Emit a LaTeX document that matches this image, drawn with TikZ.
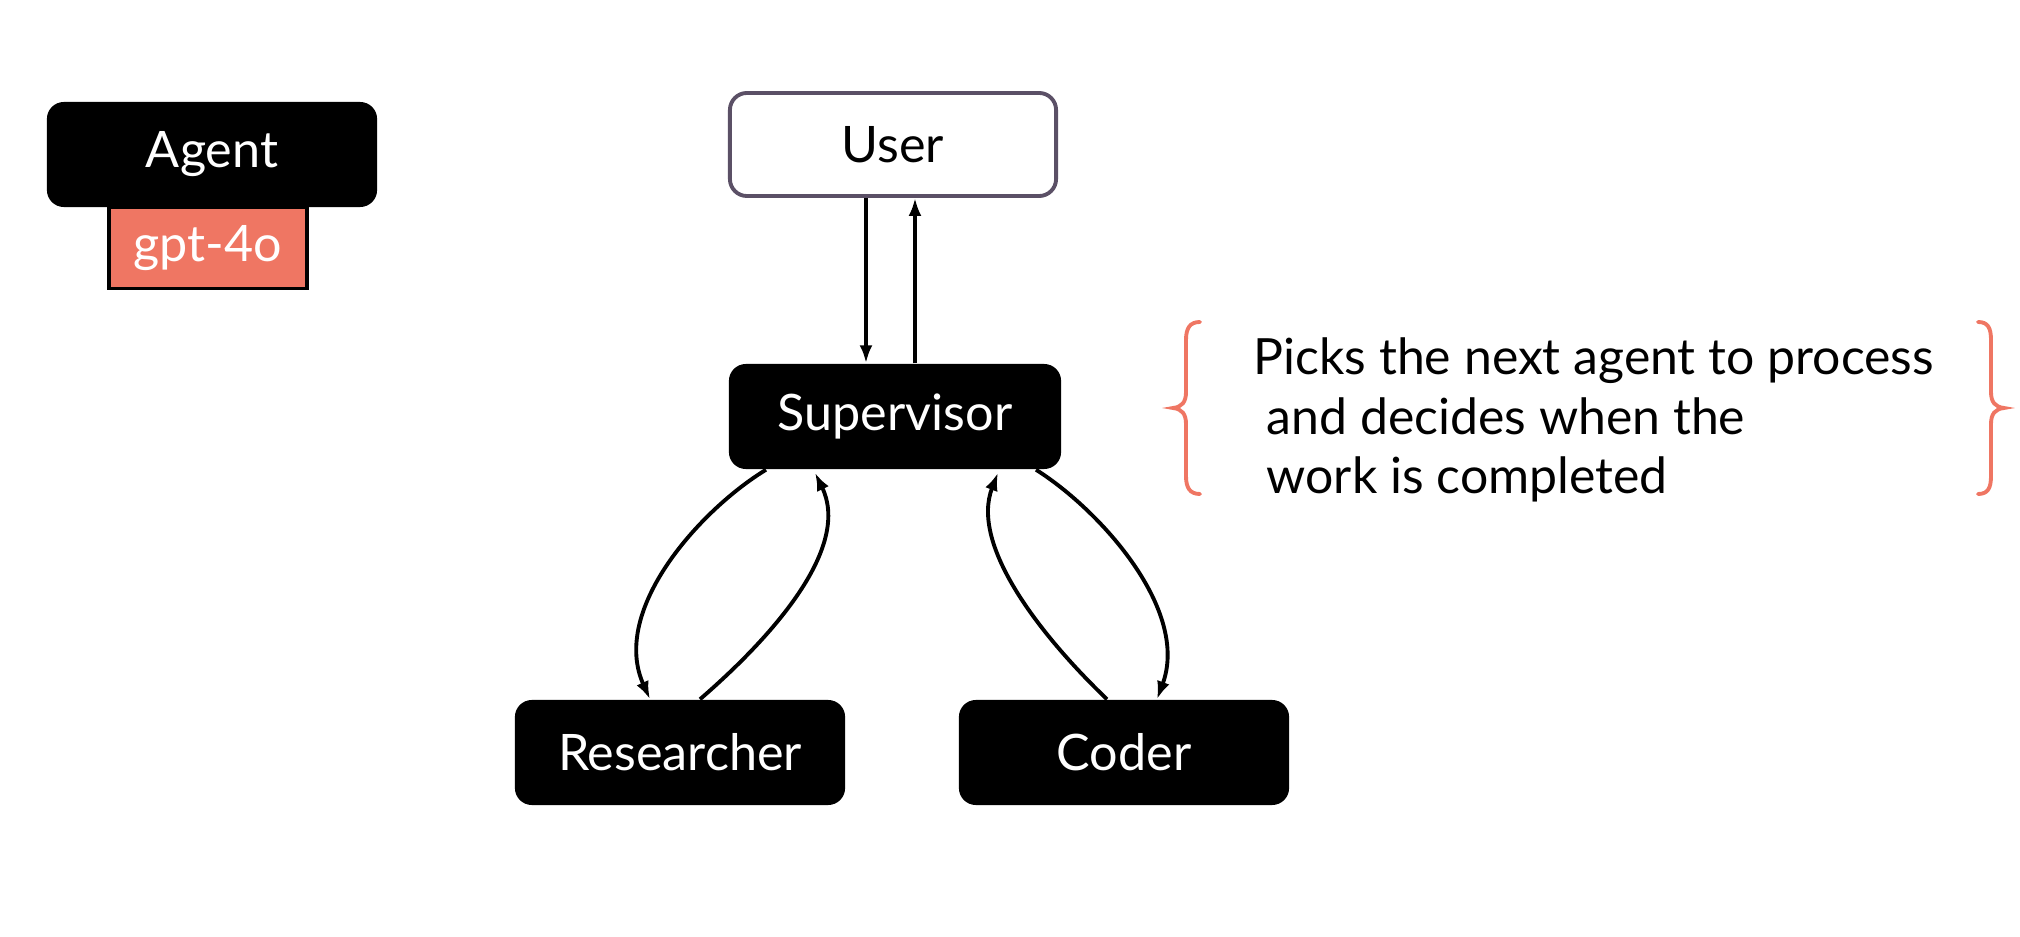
\documentclass[tikz,border=0pt]{standalone}
\usepackage{fontspec}
\setmainfont{Lato}
\usetikzlibrary{calc,arrows.meta}
\definecolor{salmon}{HTML}{EF7663}
\definecolor{userborder}{HTML}{5B5066}
\begin{document}
\begin{tikzpicture}[x=0.01cm,y=-0.01cm,
  box/.style={rectangle,rounded corners=0.17cm,minimum width=3.3cm,minimum height=1.05cm,inner sep=0pt,font=\fontsize{14.3}{16}\selectfont},
  blackbox/.style={box,fill=black,text=white},
  conn/.style={line width=1.1pt,-{Latex[length=0.18cm,width=0.13cm]}},
  desc/.style={anchor=base west,inner sep=0pt,font=\fontsize{14.2}{16}\selectfont},
  bracestyle/.style={draw=salmon,line width=1.1pt,line cap=round}]
\useasboundingbox (0,0) rectangle (2020,937);
% legend
\node[blackbox] (agent) at (212,154.5) {Agent};
\node[rectangle,fill=salmon,draw=black,line width=1.1pt,minimum width=1.98cm,minimum height=0.81cm,inner sep=0pt,text=white,font=\fontsize{14.3}{16}\selectfont] (gpt) at (208,248) {gpt-4o};
% main nodes
\node[box,draw=userborder,line width=1.1pt,fill=white,minimum width=3.26cm,minimum height=1.03cm] (user) at (893,144.5) {User};
\node[blackbox,minimum width=3.32cm] (sup) at (895,416.5) {Supervisor};
\node[blackbox] (res) at (680,752.5) {Researcher};
\node[blackbox] (cod) at (1124,752.5) {Coder};
% user <-> supervisor
\draw[conn] ($(user.south)+(-27,0)$) -- ($(sup.north)+(-29,0)$);
\draw[conn] ($(sup.north)+(20,0)$) -- ($(user.south)+(22,0)$);
% supervisor <-> researcher
\draw[conn] ($(sup.south)+(-129,0)$) .. controls (700,510) and (610,610) .. ($(res.north)+(-30,0)$);
\draw[conn] ($(res.north)+(20,0)$) .. controls (780,630) and (850,545) .. ($(sup.south)+(-80,3)$);
% supervisor <-> coder
\draw[conn] ($(sup.south)+(141,0)$) .. controls (1100,510) and (1190,610) .. ($(cod.north)+(33,0)$);
\draw[conn] ($(cod.north)+(-17,0)$) .. controls (1040,635) and (970,545) .. ($(sup.south)+(103,3)$);
% description
\node[desc] (d1) at (1253,375) {Picks the next agent to process};
\node[desc] (d2) at (1266,435) {and decides when the};
\node[desc] (d3) at (1266,494) {work is completed};
% braces
\draw[bracestyle] (1200,322) .. controls (1190,322) and (1186,328) .. (1186,340) -- (1186,392)
  .. controls (1186,402) and (1182,407) .. (1173,408)
  .. controls (1182,409) and (1186,414) .. (1186,424) -- (1186,476)
  .. controls (1186,488) and (1190,494) .. (1200,494);
\draw[bracestyle] (1978,322) .. controls (1988,322) and (1991,328) .. (1991,340) -- (1991,392)
  .. controls (1991,402) and (1995,407) .. (2004,408)
  .. controls (1995,409) and (1991,414) .. (1991,424) -- (1991,476)
  .. controls (1991,488) and (1988,494) .. (1978,494);
\end{tikzpicture}
\end{document}
